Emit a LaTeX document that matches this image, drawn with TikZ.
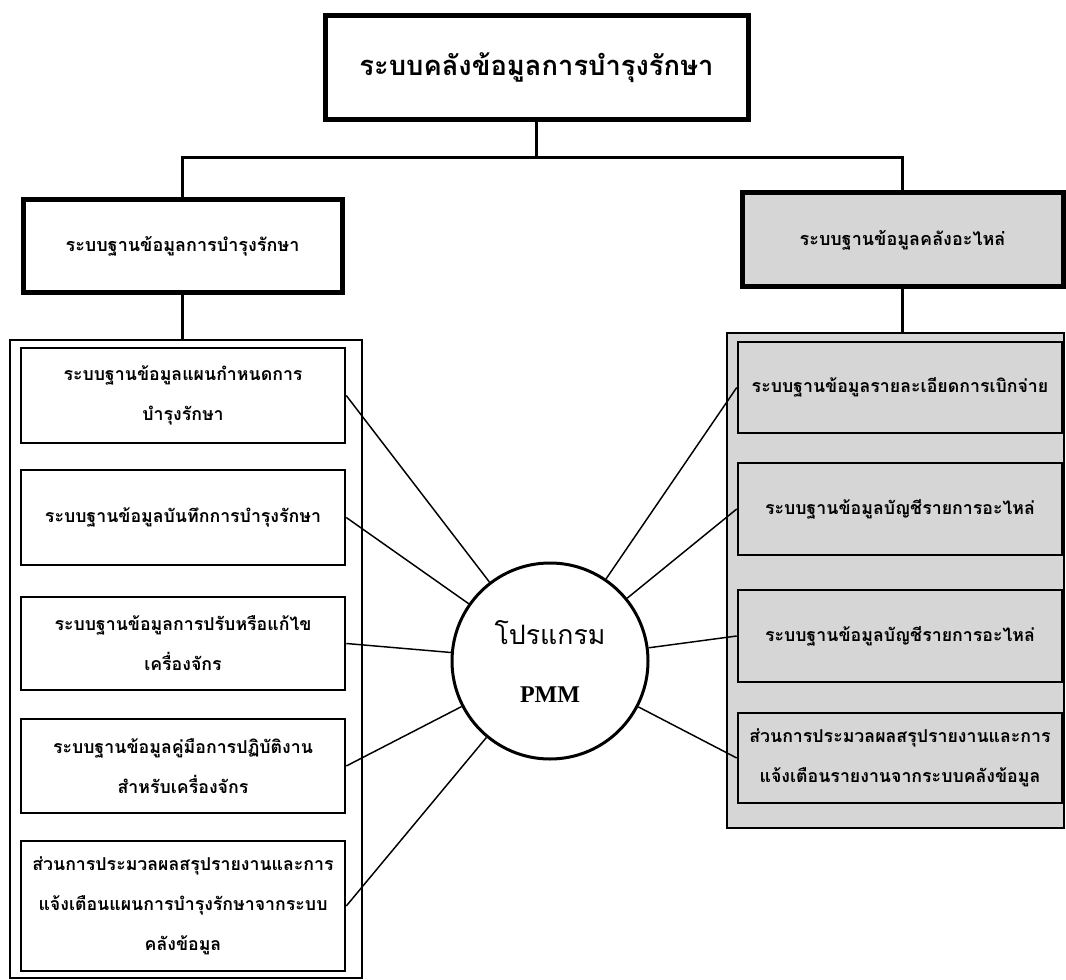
\documentclass[tikz,border=0pt]{standalone}
\usepackage{fontspec}
\newfontfamily\thaifont[Script=Thai]{Loma}
\newfontfamily\pmmfont{Liberation Serif}
\definecolor{partgray}{RGB}{214,214,214}

\tikzset{every picture/.style={line width=0.75pt}}
\tikzset{
  headbox/.style={draw, line width=3.75pt, inner sep=0pt, align=center, font=\thaifont\bfseries\fontsize{13.5}{18}\selectfont},
  subbox/.style={draw, line width=1.9pt, minimum width=243pt, inner sep=0pt, align=center, font=\thaifont\bfseries\fontsize{13.3}{30}\selectfont},
  framebox/.style={draw, line width=1.5pt, inner sep=0pt},
  treeline/.style={line width=2.25pt},
  link/.style={line width=1.1pt},
}

\begin{document}
\begin{tikzpicture}[x=0.75pt,y=0.75pt,yscale=-1,xscale=1]
\useasboundingbox (0,0) rectangle (1066,980);

%Shape: Rectangle [top]
\node [headbox, minimum width=317.25pt, minimum height=78pt, font=\thaifont\bfseries\fontsize{20.5}{24}\selectfont] (top) at (536.5,68) {ระบบคลังข้อมูลการบำรุงรักษา};
%Shape: Rectangle [left head]
\node [headbox, minimum width=239.25pt, minimum height=69.75pt] (lhead) at (182.5,246.5) {ระบบฐานข้อมูลการบำรุงรักษา};
%Shape: Rectangle [right head]
\node [headbox, fill=partgray, minimum width=240.75pt, minimum height=70.5pt] (rhead) at (902.5,240) {ระบบฐานข้อมูลคลังอะไหล่};

%Shape: Rectangle [frames]
\node [framebox, minimum width=264pt, minimum height=478.5pt] (lframe) at (186,659) {};
\node [framebox, fill=partgray, minimum width=252.75pt, minimum height=371.25pt] (rframe) at (895.5,580.5) {};

%Straight Lines
\coordinate (split) at (538,158);
\draw [treeline] (top.south) -- (top.south |- split);
\draw [treeline] (lhead.north) |- (split) -| (rhead.north);
\draw [treeline] (lhead.south) -- (lhead.south |- lframe.north);
\draw [treeline] (rhead.south) -- (rhead.south |- rframe.north);

% Text Node [left boxes]
\node [subbox, minimum height=71.25pt] (lbox1) at (183,395.5) {ระบบฐานข้อมูลแผนกำหนดการ\\บำรุงรักษา};
\node [subbox, minimum height=71.25pt] (lbox2) at (183,517.5) {ระบบฐานข้อมูลบันทึกการบำรุงรักษา};
\node [subbox, minimum height=69.75pt] (lbox3) at (183,643.5) {ระบบฐานข้อมูลการปรับหรือแก้ไข\\เครื่องจักร};
\node [subbox, minimum height=70.5pt] (lbox4) at (183,766) {ระบบฐานข้อมูลคู่มือการปฏิบัติงาน\\สำหรับเครื่องจักร};
\node [subbox, minimum height=97.5pt] (lbox5) at (183,906) {ส่วนการประมวลผลสรุปรายงานและการ\\แจ้งเตือนแผนการบำรุงรักษาจากระบบ\\คลังข้อมูล};

% Text Node [right boxes]
\node [subbox, fill=partgray, minimum height=68.25pt] (rbox1) at (900,387.5) {ระบบฐานข้อมูลรายละเอียดการเบิกจ่าย};
\node [subbox, fill=partgray, minimum height=69pt] (rbox2) at (900,509) {ระบบฐานข้อมูลบัญชีรายการอะไหล่};
\node [subbox, fill=partgray, minimum height=69pt] (rbox3) at (900,636) {ระบบฐานข้อมูลบัญชีรายการอะไหล่};
\node [subbox, fill=partgray, minimum height=67.5pt] (rbox4) at (900,758) {ส่วนการประมวลผลสรุปรายงานและการ\\แจ้งเตือนรายงานจากระบบคลังข้อมูล};

%Shape: Circle
\node [circle, draw, fill=white, line width=2.25pt, minimum size=147pt, inner sep=0pt, align=center, font=\fontsize{20}{43.5}\selectfont] (pmm) at (550,661) {{\thaifont โปรแกรม}\\{\pmmfont\bfseries\fontsize{18}{43.5}\selectfont PMM}};

%Straight Lines [to left boxes]
\draw [link] (pmm) -- (lbox1.east);
\draw [link] (pmm) -- (lbox2.east);
\draw [link] (pmm) -- (lbox3.east);
\draw [link] (pmm) -- (lbox4.east);
\draw [link] (pmm) -- (lbox5.east);
%Straight Lines [to right boxes]
\draw [link] (pmm) -- (rbox1.west);
\draw [link] (pmm) -- (rbox2.west);
\draw [link] (pmm) -- (rbox3.west);
\draw [link] (pmm) -- (rbox4.west);

\end{tikzpicture}
\end{document}
